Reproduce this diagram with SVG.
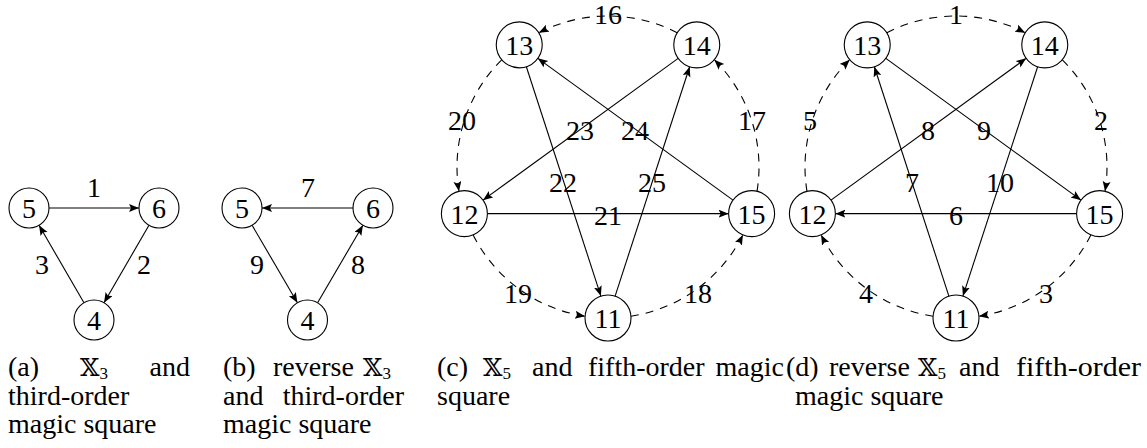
<svg xmlns="http://www.w3.org/2000/svg" width="1147" height="448" viewBox="0 0 1147 448">
<style>
.n{fill:#fff;stroke:#000;stroke-width:1.1}
.t{font-family:"Liberation Serif","DejaVu Serif",serif;font-size:28px;fill:#000;text-anchor:middle}
.c{font-family:"Liberation Serif","DejaVu Serif",serif;font-size:28px;fill:#000}
.x{font-family:"DejaVu Serif","DejaVu Sans",serif;font-size:25px}
.s{font-size:17px}
.e{fill:none;stroke:#000;stroke-width:1.1;marker-end:url(#ah)}
.d{stroke-dasharray:8 7}
</style>
<defs>
<marker id="ah" markerUnits="userSpaceOnUse" markerWidth="12" markerHeight="10" refX="10" refY="4" orient="auto">
<path d="M0,0 L10,4 L0,8 L2,4 z" fill="#000"/>
</marker>
</defs>
<rect width="1147" height="448" fill="#fff"/>

<g id="connectors">
<path class="e" d="M49,208 L139,208"/>
<path class="e" d="M148.96,225.3 L104.04,302.7"/>
<path class="e" d="M83.96,302.7 L39.04,225.3"/>
<path class="e" d="M353,208 L262,208"/>
<path class="e" d="M252.1,225.26 L297.4,302.74"/>
<path class="e" d="M317.6,302.74 L362.9,225.26"/>
<path class="e" d="M526.35,66.72 L600.89,296.12"/>
<path class="e" d="M678.15,58.36 L483,200.14"/>
<path class="e" d="M487.39,213.66 L728.61,213.66"/>
<path class="e" d="M733,200.14 L537.85,58.36"/>
<path class="e" d="M615.11,296.12 L689.65,66.72"/>
<path class="e d" d="M677.17,32.78 A151,151 0 0 0 538.83,32.78"/>
<path class="e d" d="M501.68,59.77 A151,151 0 0 0 458.97,191.31"/>
<path class="e d" d="M473.14,234.93 A151,151 0 0 0 585.07,316.25"/>
<path class="e d" d="M630.93,316.25 A151,151 0 0 0 742.86,234.93"/>
<path class="e d" d="M757.03,191.31 A151,151 0 0 0 714.32,59.77"/>
<path class="e" d="M1076.61,213.66 L835.39,213.66"/>
<path class="e" d="M948.89,296.12 L874.35,66.72"/>
<path class="e" d="M831,200.14 L1026.15,58.36"/>
<path class="e" d="M885.85,58.36 L1081,200.14"/>
<path class="e" d="M1037.65,66.72 L962.89,296.12"/>
<path class="e d" d="M886.83,32.78 A151,151 0 0 1 1025.17,32.78"/>
<path class="e d" d="M1062.32,59.77 A151,151 0 0 1 1105.03,191.31"/>
<path class="e d" d="M1090.86,234.93 A151,151 0 0 1 978.93,316.25"/>
<path class="e d" d="M933.07,316.25 A151,151 0 0 1 821.14,234.93"/>
<path class="e d" d="M806.97,191.31 A151,151 0 0 1 849.68,59.77"/>
</g>

<g id="edge-labels">
<text class="t" x="94" y="197">1</text>
<text class="t" x="144" y="274">2</text>
<text class="t" x="42" y="274">3</text>
<text class="t" x="308" y="197">7</text>
<text class="t" x="257" y="274">9</text>
<text class="t" x="358" y="274">8</text>
<text class="t" x="608" y="24">16</text>
<text class="t" x="462" y="130">20</text>
<text class="t" x="752" y="130">17</text>
<text class="t" x="518" y="303">19</text>
<text class="t" x="698" y="303">18</text>
<text class="t" x="608" y="225">21</text>
<text class="t" x="563" y="192">22</text>
<text class="t" x="580" y="140">23</text>
<text class="t" x="635" y="140">24</text>
<text class="t" x="652" y="192">25</text>
<text class="t" x="956" y="24">1</text>
<text class="t" x="1101" y="130">2</text>
<text class="t" x="1046" y="303">3</text>
<text class="t" x="866" y="303">4</text>
<text class="t" x="810" y="130">5</text>
<text class="t" x="956" y="225">6</text>
<text class="t" x="912" y="192">7</text>
<text class="t" x="928" y="140">8</text>
<text class="t" x="984" y="140">9</text>
<text class="t" x="1000" y="192">10</text>
</g>

<g id="a-5"><circle class="n" cx="29" cy="208" r="20"/><text class="t" x="29" y="218">5</text></g>
<g id="a-6"><circle class="n" cx="159" cy="208" r="20"/><text class="t" x="159" y="218">6</text></g>
<g id="a-4"><circle class="n" cx="94" cy="320" r="20"/><text class="t" x="94" y="330">4</text></g>

<g id="b-5"><circle class="n" cx="242" cy="208" r="20"/><text class="t" x="242" y="218">5</text></g>
<g id="b-6"><circle class="n" cx="373" cy="208" r="20"/><text class="t" x="373" y="218">6</text></g>
<g id="b-4"><circle class="n" cx="307.5" cy="320" r="20"/><text class="t" x="307.5" y="330">4</text></g>

<g id="c-11"><circle class="n" cx="608" cy="318" r="23"/><text class="t" x="608" y="328">11</text></g>
<g id="c-12"><circle class="n" cx="464.39" cy="213.66" r="23"/><text class="t" x="464.39" y="223.66">12</text></g>
<g id="c-13"><circle class="n" cx="519.24" cy="44.84" r="23"/><text class="t" x="519.24" y="54.84">13</text></g>
<g id="c-14"><circle class="n" cx="696.76" cy="44.84" r="23"/><text class="t" x="696.76" y="54.84">14</text></g>
<g id="c-15"><circle class="n" cx="751.61" cy="213.66" r="23"/><text class="t" x="751.61" y="223.66">15</text></g>

<g id="d-11"><circle class="n" cx="956" cy="318" r="23"/><text class="t" x="956" y="328">11</text></g>
<g id="d-12"><circle class="n" cx="812.39" cy="213.66" r="23"/><text class="t" x="812.39" y="223.66">12</text></g>
<g id="d-13"><circle class="n" cx="867.24" cy="44.84" r="23"/><text class="t" x="867.24" y="54.84">13</text></g>
<g id="d-14"><circle class="n" cx="1044.76" cy="44.84" r="23"/><text class="t" x="1044.76" y="54.84">14</text></g>
<g id="d-15"><circle class="n" cx="1099.61" cy="213.66" r="23"/><text class="t" x="1099.61" y="223.66">15</text></g>

<g id="captions">
<text class="c" x="8" y="376">(a)</text>
<text class="c" x="80" y="376"><tspan class="x">𝕏</tspan><tspan class="s" dy="3">3</tspan></text>
<text class="c" x="190" y="376" text-anchor="end">and</text>
<text class="c" x="8" y="405">third-order</text>
<text class="c" x="8" y="433">magic square</text>

<text class="c" x="223" y="376">(b)</text>
<text class="c" x="273" y="376">reverse</text>
<text class="c" x="363" y="376"><tspan class="x">𝕏</tspan><tspan class="s" dy="3">3</tspan></text>
<text class="c" x="223" y="405">and</text>
<text class="c" x="404" y="405" text-anchor="end">third-order</text>
<text class="c" x="223" y="433">magic square</text>

<text class="c" x="437" y="376">(c)</text>
<text class="c" x="483" y="376"><tspan class="x">𝕏</tspan><tspan class="s" dy="3">5</tspan></text>
<text class="c" x="532" y="376">and</text>
<text class="c" x="588" y="376">fifth-order</text>
<text class="c" x="784" y="376" text-anchor="end">magic</text>
<text class="c" x="437" y="405">square</text>

<text class="c" x="786" y="376">(d)</text>
<text class="c" x="829" y="376">reverse</text>
<text class="c" x="918" y="376"><tspan class="x">𝕏</tspan><tspan class="s" dy="3">5</tspan></text>
<text class="c" x="959" y="376">and</text>
<text class="c" x="1016" y="376" textLength="125" lengthAdjust="spacingAndGlyphs">fifth-order</text>
<text class="c" x="795" y="405">magic square</text>
</g>
</svg>
